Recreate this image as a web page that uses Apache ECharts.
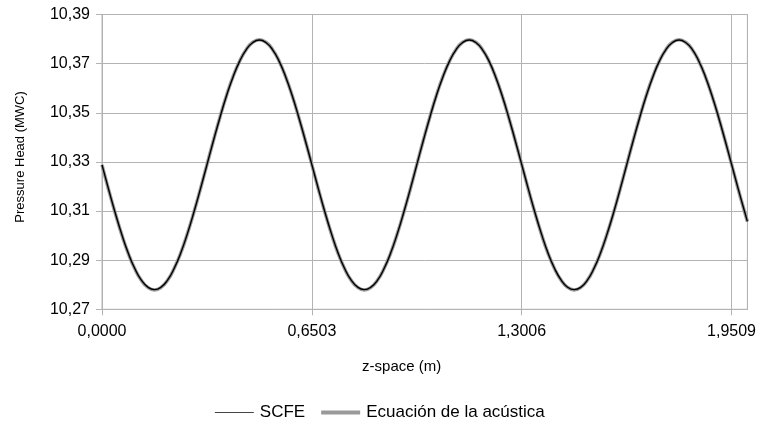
<!DOCTYPE html>
<html>
<head>
<meta charset="utf-8">
<script src="https://cdn.jsdelivr.net/npm/echarts@6/dist/echarts.min.js"></script>
<style>
html,body{margin:0;padding:0;background:#fff;}
#chart{width:759px;height:423px;}
</style>
</head>
<body>
<div id="chart"></div>
<script>
// z-space (m)
const zValues = [
  0.0000,0.0203,0.0406,0.0610,0.0813,0.1016,0.1219,0.1423,0.1626,0.1829,0.2032,0.2235,0.2439,0.2642,0.2845,0.3048,
  0.3252,0.3455,0.3658,0.3861,0.4064,0.4268,0.4471,0.4674,0.4877,0.5080,0.5284,0.5487,0.5690,0.5893,0.6097,0.6300,
  0.6503,0.6706,0.6909,0.7113,0.7316,0.7519,0.7722,0.7926,0.8129,0.8332,0.8535,0.8738,0.8942,0.9145,0.9348,0.9551,
  0.9755,0.9958,1.0161,1.0364,1.0567,1.0771,1.0974,1.1177,1.1380,1.1583,1.1787,1.1990,1.2193,1.2396,1.2600,1.2803,
  1.3006,1.3209,1.3412,1.3616,1.3819,1.4022,1.4225,1.4429,1.4632,1.4835,1.5038,1.5241,1.5445,1.5648,1.5851,1.6054,
  1.6258,1.6461,1.6664,1.6867,1.7070,1.7274,1.7477,1.7680,1.7883,1.8086,1.8290,1.8493,1.8696,1.8899,1.9103,1.9306,
  1.9509,1.9712,1.9915,2.0000];
// Pressure head (MWC), SCFE
const scfe = [
  10.3288,10.3189,10.3094,10.3006,10.2929,10.2866,10.2819,10.2790,10.2780,10.2790,10.2819,10.2866,10.2929,10.3006,10.3094,10.3189,
  10.3288,10.3387,10.3482,10.3570,10.3647,10.3710,10.3757,10.3786,10.3796,10.3786,10.3757,10.3710,10.3647,10.3570,10.3482,10.3387,
  10.3289,10.3190,10.3095,10.3007,10.2929,10.2866,10.2819,10.2790,10.2780,10.2790,10.2818,10.2865,10.2928,10.3005,10.3093,10.3188,
  10.3288,10.3387,10.3482,10.3570,10.3647,10.3710,10.3757,10.3786,10.3796,10.3786,10.3757,10.3711,10.3648,10.3571,10.3483,10.3388,
  10.3290,10.3191,10.3096,10.3008,10.2930,10.2867,10.2820,10.2790,10.2780,10.2789,10.2818,10.2865,10.2928,10.3005,10.3092,10.3187,
  10.3287,10.3386,10.3481,10.3569,10.3646,10.3710,10.3757,10.3786,10.3796,10.3786,10.3758,10.3711,10.3648,10.3571,10.3484,10.3389,
  10.3291,10.3192,10.3097,10.3058];
// Pressure head (MWC), Ecuación de la acústica
const acustica = [
  10.3288,10.3188,10.3093,10.3005,10.2928,10.2865,10.2818,10.2789,10.2779,10.2789,10.2818,10.2866,10.2929,10.3006,10.3094,10.3189,
  10.3289,10.3388,10.3483,10.3571,10.3648,10.3711,10.3758,10.3787,10.3797,10.3787,10.3758,10.3711,10.3647,10.3570,10.3482,10.3387,
  10.3289,10.3189,10.3094,10.3006,10.2928,10.2865,10.2818,10.2789,10.2779,10.2789,10.2818,10.2865,10.2928,10.3005,10.3093,10.3188,
  10.3289,10.3388,10.3483,10.3571,10.3648,10.3711,10.3758,10.3787,10.3797,10.3787,10.3758,10.3711,10.3648,10.3571,10.3483,10.3388,
  10.3290,10.3190,10.3095,10.3007,10.2929,10.2866,10.2819,10.2789,10.2779,10.2789,10.2818,10.2865,10.2928,10.3005,10.3092,10.3188,
  10.3288,10.3387,10.3482,10.3570,10.3647,10.3711,10.3758,10.3787,10.3797,10.3787,10.3758,10.3711,10.3648,10.3571,10.3484,10.3389,
  10.3291,10.3191,10.3096,10.3057];
const xTicks = [0, 0.6503, 1.3006, 1.9509];
const yTicks = [10.27, 10.29, 10.31, 10.33, 10.35, 10.37, 10.39];
const seriesNames = ['SCFE', 'Ecuación de la acústica'];

const yBase = yTicks[0];
const yStep = yTicks[1] - yTicks[0];
const toPairs = arr => zValues.map((z, i) => [z, arr[i] - yBase]);

const chart = echarts.init(document.getElementById('chart'), null, {renderer: 'canvas'});
const font = 'Liberation Sans, Arial, sans-serif';
chart.setOption({
  animation: false,
  textStyle: {fontFamily: font},
  grid: {left: 102, right: 11, top: 14.5, bottom: 113.7, show: true, borderColor: '#b3b3b3', borderWidth: 1},
  legend: {
    data: [
      {name: seriesNames[0], lineStyle: {width: 1.2, color: '#444444'}},
      {name: seriesNames[1], lineStyle: {width: 4, color: '#999999'}}
    ],
    left: 'center', top: 399, itemWidth: 39, itemHeight: 14, itemGap: 14,
    itemStyle: {opacity: 0},
    textStyle: {fontSize: 17, color: '#000', fontFamily: font, padding: [0, 0, 0, 1]}
  },
  xAxis: {
    type: 'value', min: 0, max: 2.0, interval: xTicks[1],
    name: 'z-space (m)', nameLocation: 'middle', nameGap: 50,
    nameTextStyle: {fontSize: 15, color: '#000', padding: [0, 46, 0, 0]},
    axisLine: {show: true, lineStyle: {color: '#b3b3b3'}},
    axisTick: {show: true, length: 6, lineStyle: {color: '#b3b3b3'}},
    axisLabel: {fontSize: 16, color: '#000', margin: 14, showMaxLabel: false,
      formatter: v => v.toFixed(4).replace('.', ',')},
    splitLine: {show: true, lineStyle: {color: '#b3b3b3'}}
  },
  yAxis: {
    type: 'value', min: 0, max: yTicks[yTicks.length - 1] - yBase, interval: yStep,
    name: 'Pressure Head (MWC)', nameLocation: 'middle', nameGap: 75,
    nameTextStyle: {fontSize: 13, color: '#000', padding: [0, 0, 0, 10]},
    axisLine: {show: true, lineStyle: {color: '#b3b3b3'}},
    axisTick: {show: true, length: 6, lineStyle: {color: '#b3b3b3'}},
    axisLabel: {fontSize: 16, color: '#000', margin: 12,
      formatter: v => (v + yBase).toFixed(2).replace('.', ',')},
    splitLine: {show: true, lineStyle: {color: '#b3b3b3'}}
  },
  series: [
    {
      name: seriesNames[1], type: 'line', data: toPairs(acustica), smooth: true,
      showSymbol: false, symbol: 'none', z: 2,
      lineStyle: {color: '#999999', width: 3.5}, itemStyle: {color: '#999999'}
    },
    {
      name: seriesNames[0], type: 'line', data: toPairs(scfe), smooth: true,
      showSymbol: false, symbol: 'none', z: 3,
      lineStyle: {color: '#000000', width: 1.4}, itemStyle: {color: '#444444'}
    }
  ]
});
</script>
</body>
</html>
